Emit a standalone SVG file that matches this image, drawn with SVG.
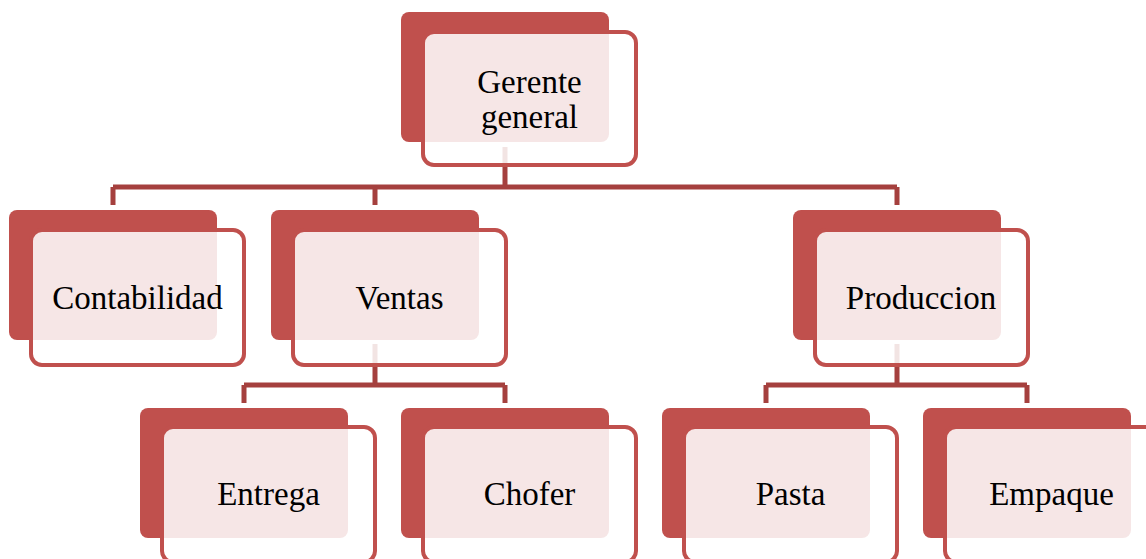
<svg xmlns="http://www.w3.org/2000/svg" width="1146" height="559" viewBox="0 0 1146 559">
<defs>
<style>
.back{fill:#C0504D;}
.frame{fill:#FFFFFF;fill-opacity:0.86;stroke:#C0504D;stroke-width:4;}
.conn{fill:none;stroke:#A5403E;stroke-width:5;stroke-linecap:butt;stroke-linejoin:miter;}
.lbl{font-family:"Liberation Serif","DejaVu Serif",serif;font-size:33px;fill:#000000;text-anchor:middle;}
</style>
</defs>
<rect width="1146" height="559" fill="#FFFFFF"/>
<g id="connectors">
<path class="conn" d="M505,147 V187 M113,187 H897 M113,187 V205 M375,187 V205 M897,187 V205"/>
<path class="conn" d="M375,344 V385 M244,385 H505 M244,385 V403 M505,385 V403"/>
<path class="conn" d="M897,344 V385 M766,385 H1027 M766,385 V403 M1027,385 V403"/>
</g>
<g id="gerente">
<rect class="back" x="401" y="12" width="208" height="130" rx="8"/>
<rect class="frame" x="423" y="32" width="213" height="133" rx="11"/>
<text class="lbl" x="529.5" y="93">Gerente</text>
<text class="lbl" x="529.5" y="128">general</text>
</g>
<g id="contabilidad">
<rect class="back" x="9" y="210" width="208" height="130" rx="8"/>
<rect class="frame" x="31" y="230" width="213" height="135" rx="11"/>
<text class="lbl" x="137.5" y="309">Contabilidad</text>
</g>
<g id="ventas">
<rect class="back" x="271" y="210" width="208" height="130" rx="8"/>
<rect class="frame" x="293" y="230" width="213" height="135" rx="11"/>
<text class="lbl" x="399.5" y="309">Ventas</text>
</g>
<g id="produccion">
<rect class="back" x="793" y="210" width="208" height="130" rx="8"/>
<rect class="frame" x="815" y="230" width="213" height="135" rx="11"/>
<text class="lbl" x="921" y="309">Produccion</text>
</g>
<g id="entrega">
<rect class="back" x="140" y="408" width="208" height="130" rx="8"/>
<rect class="frame" x="162" y="427" width="213" height="135" rx="11"/>
<text class="lbl" x="268.5" y="505">Entrega</text>
</g>
<g id="chofer">
<rect class="back" x="401" y="408" width="208" height="130" rx="8"/>
<rect class="frame" x="423" y="427" width="213" height="135" rx="11"/>
<text class="lbl" x="529.5" y="505">Chofer</text>
</g>
<g id="pasta">
<rect class="back" x="662" y="408" width="208" height="130" rx="8"/>
<rect class="frame" x="684" y="427" width="213" height="135" rx="11"/>
<text class="lbl" x="790.5" y="505">Pasta</text>
</g>
<g id="empaque">
<rect class="back" x="923" y="408" width="208" height="130" rx="8"/>
<rect class="frame" x="945" y="427" width="213" height="135" rx="11"/>
<text class="lbl" x="1051.5" y="505">Empaque</text>
</g>
</svg>
